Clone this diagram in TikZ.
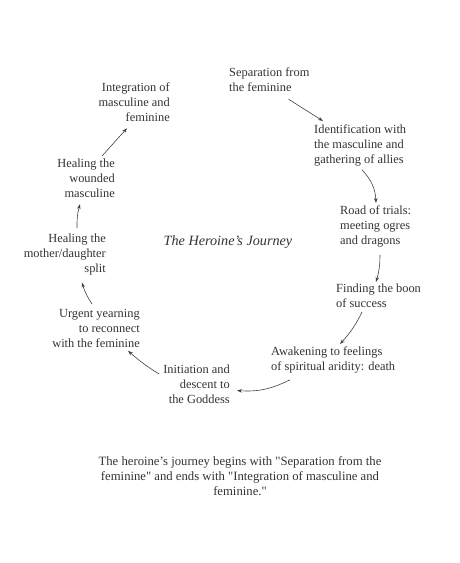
\documentclass[tikz,border=0pt]{standalone}
\usepackage{fontspec}
\setmainfont{Liberation Serif}
\usetikzlibrary{arrows.meta}

\begin{document}
\begin{tikzpicture}[
    x=1pt, y=1pt,
    stage/.style={inner sep=0pt, font=\fontsize{12.4}{15}\selectfont, text=black!80},
    stageleft/.style={stage, align=left},
    stageright/.style={stage, align=right},
    flow/.style={-{Stealth[length=5pt,width=3.5pt]}, line width=0.6pt, draw=black!75},
    title/.style={inner sep=0pt, font=\fontsize{14.2}{16}\selectfont\itshape, text=black!80},
    caption/.style={inner sep=0pt, align=center, font=\fontsize{12.7}{15}\selectfont, text=black!80}
]
    \useasboundingbox (0,0) rectangle (459,-563);

    % Stages of the journey
    \node[stageleft, anchor=north west] (sep) at (229,-68) {Separation from\\the feminine};
    \node[stageleft, anchor=north west] (ident) at (314,-125) {Identification with\\the masculine and\\gathering of allies};
    \node[stageleft, anchor=north west] (road) at (340,-206) {Road of trials:\\meeting ogres\\and dragons};
    \node[stageleft, anchor=north west] (boon) at (336,-284) {Finding the boon\\of success};
    \node[stageleft, anchor=north west] (awake) at (271,-347) {Awakening to feelings\\of spiritual aridity: death};
    \node[stageright, anchor=north east] (init) at (230,-365) {Initiation and\\descent to\\the Goddess};
    \node[stageright, anchor=north east] (urgent) at (140,-309) {Urgent yearning\\to reconnect\\with the feminine};
    \node[stageright, anchor=north east] (mother) at (106,-234) {Healing the\\mother/daughter\\split};
    \node[stageright, anchor=north east] (wound) at (115,-159) {Healing the\\wounded\\masculine};
    \node[stageright, anchor=north east] (integ) at (170,-83) {Integration of\\masculine and\\feminine};

    % Title
    \node[title] (journey) at (228,-242) {The Heroine's Journey};

    % Arrows
    \draw[flow] ([shift={(-21,-7)}]sep.south east) -- ([shift={(9,4)}]ident.north west);
    \draw[flow] ([shift={(48,-3)}]ident.south west) to[bend left=20] ([shift={(36,3)}]road.north west);
    \draw[flow] ([shift={(40,-7)}]road.south west) to[bend left=8] ([shift={(40,2)}]boon.north west);
    \draw[flow] ([shift={(26,-4)}]boon.south west) to[bend left=8] ([shift={(69,3)}]awake.north west);
    \draw[flow] ([shift={(19,-6)}]awake.south west) to[bend left=15] ([shift={(7,-6)}]init.east);
    \draw[flow] ([shift={(-4,-9)}]init.north west) to[bend left=5] ([shift={(-12,-3)}]urgent.south east);
    \draw[flow] ([shift={(-48,5)}]urgent.north east) to[bend left=8] ([shift={(-24,-7)}]mother.south east);
    \draw[flow] ([shift={(-29,6)}]mother.north east) to[bend left=8] ([shift={(-35,-6)}]wound.south east);
    \draw[flow] ([shift={(-13,3)}]wound.north east) -- ([shift={(-43,-6)}]integ.south east);

    % Caption
    \node[caption, anchor=north] (cap) at (240,-456) {The heroine's journey begins with \textquotedbl Separation from the\\feminine\textquotedbl{} and ends with \textquotedbl Integration of masculine and\\feminine.\textquotedbl};
\end{tikzpicture}
\end{document}
